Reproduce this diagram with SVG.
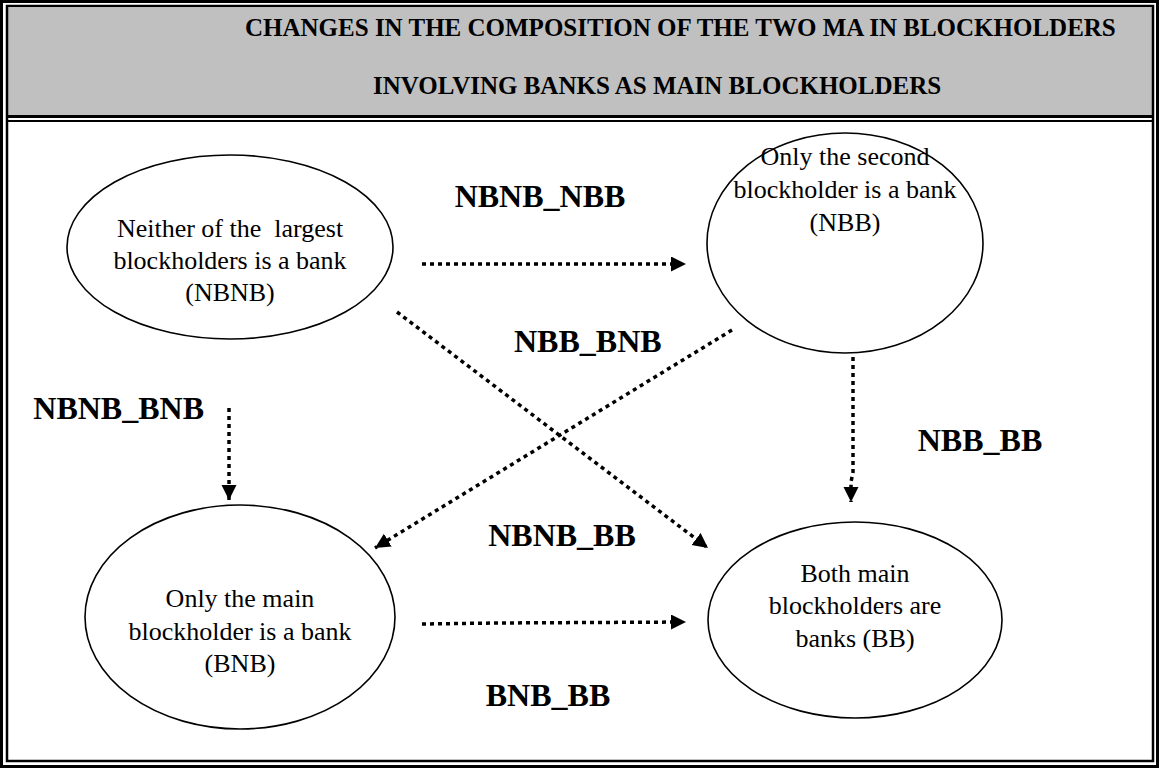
<svg xmlns="http://www.w3.org/2000/svg" width="1159" height="769" viewBox="0 0 1159 769">
<style>
.node ellipse{fill:#fff;stroke:#000;stroke-width:1.6}
.nt{font-family:"Liberation Serif","Times New Roman",serif;font-size:26px;fill:#000;text-anchor:middle}
.lbl{font-family:"Liberation Serif","Times New Roman",serif;font-size:32px;font-weight:bold;fill:#000}
.title{font-family:"Liberation Serif","Times New Roman",serif;font-size:25px;font-weight:bold;fill:#000}
.conn path{fill:none;stroke:#000;stroke-width:3.5;stroke-dasharray:4 4}
</style>
<defs>
<marker id="ah" markerUnits="userSpaceOnUse" markerWidth="16" markerHeight="16" refX="15" refY="7.5" orient="auto">
<path d="M0,0 L15,7.5 L0,15 Z" fill="#000"/>
</marker>
</defs>
<rect x="0" y="0" width="1159" height="769" fill="#fff"/>
<g id="frame">
<rect x="8" y="8" width="1144" height="107" fill="#C0C0C0"/>
<rect x="1.5" y="1.5" width="1156" height="765" fill="none" stroke="#000" stroke-width="3"/>
<rect x="7" y="6" width="1146" height="755" fill="none" stroke="#000" stroke-width="2.5"/>
<line x1="7" y1="116.5" x2="1153" y2="116.5" stroke="#000" stroke-width="3"/>
<line x1="7" y1="121" x2="1153" y2="121" stroke="#000" stroke-width="2"/>
</g>
<g id="title">
<text class="title" x="245" y="36">CHANGES IN THE COMPOSITION OF THE TWO MA IN BLOCKHOLDERS</text>
<text class="title" x="373" y="94">INVOLVING BANKS AS MAIN BLOCKHOLDERS</text>
</g>
<g id="connectors" class="conn">
<path d="M422,264 L686,264" marker-end="url(#ah)"/>
<path d="M229,408 L229,500" marker-end="url(#ah)"/>
<path d="M397,312 L708,548" marker-end="url(#ah)"/>
<path d="M732,330 L375,548" marker-end="url(#ah)"/>
<path d="M853,357 L853,472 L851,482 L851,502" marker-end="url(#ah)"/>
<path d="M422,624 L497,623 L686,622" marker-end="url(#ah)"/>
</g>
<g id="labels">
<text class="lbl" x="540" y="207" text-anchor="middle">NBNB_NBB</text>
<text class="lbl" x="514" y="352">NBB_BNB</text>
<text class="lbl" x="204" y="419" text-anchor="end">NBNB_BNB</text>
<text class="lbl" x="980" y="451" text-anchor="middle">NBB_BB</text>
<text class="lbl" x="562" y="546" text-anchor="middle">NBNB_BB</text>
<text class="lbl" x="548" y="706" text-anchor="middle">BNB_BB</text>
</g>
<g id="node-NBNB" class="node">
<ellipse cx="230" cy="247" rx="163" ry="92"/>
<text class="nt" x="230" y="237" xml:space="preserve">Neither of the  largest</text>
<text class="nt" x="230" y="269">blockholders is a bank</text>
<text class="nt" x="230" y="301">(NBNB)</text>
</g>
<g id="node-NBB" class="node">
<ellipse cx="845" cy="243" rx="138" ry="110"/>
<text class="nt" x="845" y="165">Only the second</text>
<text class="nt" x="845" y="198">blockholder is a bank</text>
<text class="nt" x="845" y="231">(NBB)</text>
</g>
<g id="node-BNB" class="node">
<ellipse cx="240" cy="617" rx="155" ry="112"/>
<text class="nt" x="240" y="607">Only the main</text>
<text class="nt" x="240" y="640">blockholder is a bank</text>
<text class="nt" x="240" y="672">(BNB)</text>
</g>
<g id="node-BB" class="node">
<ellipse cx="855" cy="620" rx="147" ry="98"/>
<text class="nt" x="855" y="582">Both main</text>
<text class="nt" x="855" y="614">blockholders are</text>
<text class="nt" x="855" y="647">banks (BB)</text>
</g>
</svg>
